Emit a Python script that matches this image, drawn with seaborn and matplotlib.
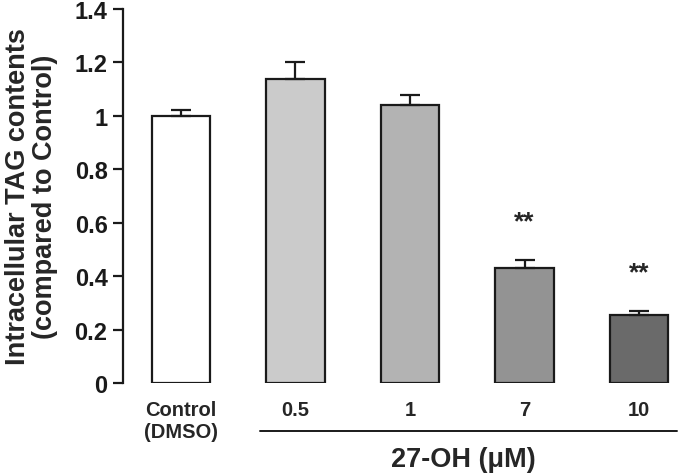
"""
Intracellular TAG contents after 27-OH treatment, bar chart with error bars.
"""

import matplotlib.pyplot as plt
import seaborn as sns
import pandas as pd
from matplotlib.ticker import FuncFormatter

groups = ['Control\n(DMSO)', '0.5', '1', '7', '10']
tag_means = [1.0, 1.137, 1.04, 0.431, 0.255]
tag_errors = [0.022, 0.066, 0.038, 0.031, 0.016]
significance = ['', '', '', '**', '**']
bar_colors = ['#ffffff', '#cbcbcb', '#b3b3b3', '#939393', '#6a6a6a']

sns.set_style('white')
plt.rcParams['font.family'] = ['Liberation Sans', 'DejaVu Sans']

df = pd.DataFrame({'group': groups, 'tag': tag_means})

fig, ax = plt.subplots(figsize=(6.98, 4.77), dpi=100)
fig.subplots_adjust(left=0.176, right=0.988, bottom=0.195, top=0.979)

sns.barplot(data=df, x='group', y='tag', hue='group', palette=bar_colors,
            width=0.51, edgecolor='#1a1a1a', linewidth=1.6, legend=False,
            errorbar=None, ax=ax)

# upper error bars only
ax.errorbar(range(len(groups)), tag_means, yerr=[[0] * len(groups), tag_errors],
            fmt='none', ecolor='#1a1a1a', elinewidth=1.6, capsize=7,
            capthick=1.6, zorder=3)

# significance stars
for i, (m, e, s) in enumerate(zip(tag_means, tag_errors, significance)):
    if s:
        ax.text(i, m + e + 0.10, s, ha='center', va='bottom',
                fontsize=19, fontweight='bold')

ax.set_xlim(-0.505, 4.44)
ax.set_ylim(0, 1.4)
ax.set_yticks([0, 0.2, 0.4, 0.6, 0.8, 1.0, 1.2, 1.4])
ax.yaxis.set_major_formatter(FuncFormatter(lambda v, p: f'{v:g}'))

ax.set_xlabel('')
ax.set_ylabel('Intracellular TAG contents\n(compared to Control)',
              fontsize=19.5, fontweight='bold', labelpad=12, linespacing=1.05)

for side in ['top', 'right', 'bottom']:
    ax.spines[side].set_visible(False)
ax.spines['left'].set_linewidth(1.6)
ax.spines['left'].set_color('#1a1a1a')

ax.tick_params(axis='y', direction='out', length=7, width=1.6, left=True,
               labelsize=17, pad=4, colors='#1a1a1a')
ax.tick_params(axis='x', length=0, labelsize=14.5, pad=12)
for lbl in ax.get_yticklabels() + ax.get_xticklabels():
    lbl.set_fontweight('bold')

# bracket line under the 27-OH doses
trans = ax.get_xaxis_transform()
ax.plot([0.69, 4.33], [-0.128, -0.128], color='#1a1a1a', lw=1.4,
        transform=trans, clip_on=False)
ax.text(2.47, -0.203, '27-OH (μM)', transform=trans, ha='center', va='center',
        fontsize=19.5, fontweight='bold')

plt.savefig('out.png', dpi=100)
